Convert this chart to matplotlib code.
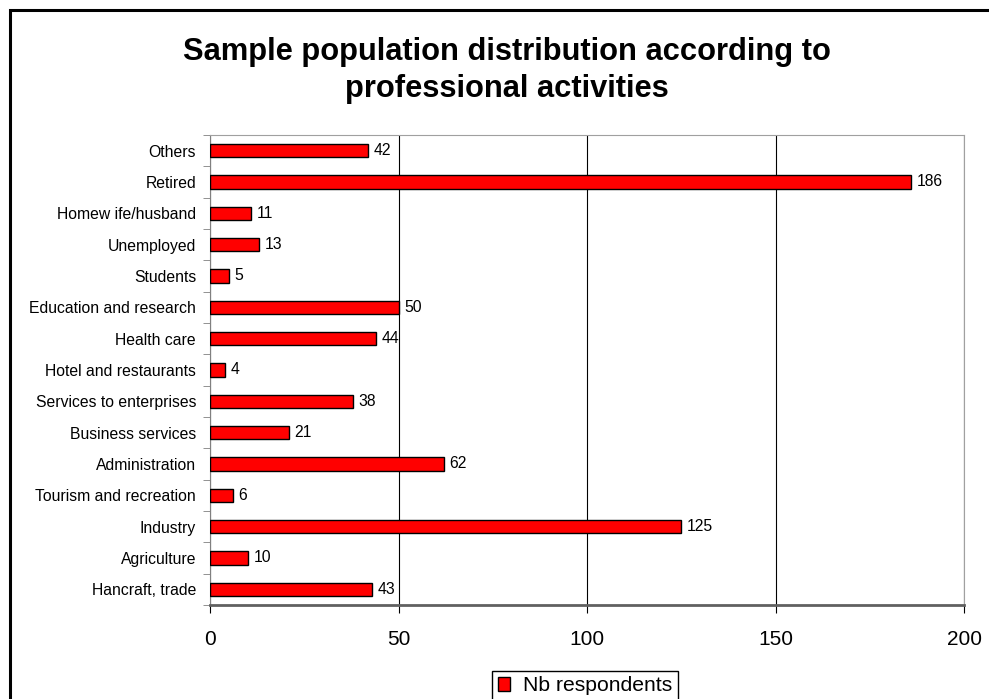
import matplotlib
matplotlib.use("Agg")
import matplotlib.pyplot as plt
from matplotlib.patches import Rectangle
import numpy as np

# professional activity categories, listed bottom to top
categories = ["Hancraft, trade", "Agriculture", "Industry", "Tourism and recreation",
              "Administration", "Business services", "Services to enterprises",
              "Hotel and restaurants", "Health care", "Education and research",
              "Students", "Unemployed", "Homew ife/husband", "Retired", "Others"]
respondents = [43, 10, 125, 6, 62, 21, 38, 4, 44, 50, 5, 13, 11, 186, 42]
x_ticks = [0, 50, 100, 150, 200]

plt.rcParams['font.family'] = ['Liberation Sans', 'DejaVu Sans']

fig = plt.figure(figsize=(9.89, 6.99), dpi=100)
ax = fig.add_axes([210 / 989, 1 - 605 / 699, 754 / 989, 470 / 699])

y = np.arange(len(categories))
ax.barh(y, respondents, height=0.42, color='#FF0000', edgecolor='black',
        linewidth=1, label='Nb respondents', zorder=3)

# value labels at the end of each bar
for yi, v in zip(y, respondents):
    ax.annotate(str(v), (v, yi), xytext=(4, 0), textcoords='offset points',
                va='center', ha='left', fontsize=11.3)

ax.set_xlim(0, 200)
ax.set_ylim(-0.5, len(categories) - 0.5)
ax.set_xticks(x_ticks)
ax.tick_params(axis='x', labelsize=15, length=6, pad=12, color='black')

ax.set_yticks(y)
ax.set_yticklabels(categories, fontsize=11.3)
ax.set_yticks(np.arange(-0.5, len(categories)), minor=True)
ax.tick_params(axis='y', which='major', length=0, pad=10)
ax.tick_params(axis='y', which='minor', length=5, color='#808080')

ax.xaxis.grid(True, color='black', linewidth=0.8, zorder=0)
ax.set_axisbelow(True)

ax.spines['top'].set_color('#a0a0a0')
ax.spines['right'].set_color('#a0a0a0')
ax.spines['left'].set_color('#808080')
ax.spines['bottom'].set_color('#606060')
ax.spines['bottom'].set_linewidth(2)

fig.text(507 / 989, 1 - 70.5 / 699,
         "Sample population distribution according to\nprofessional activities",
         ha='center', va='center', fontsize=22.2, fontweight='bold', linespacing=1.3)

fig.legend(loc='upper center', bbox_to_anchor=(585 / 989, 1 - 671 / 699),
           borderaxespad=0, fontsize=15.2, frameon=True, fancybox=False,
           edgecolor='black', framealpha=1, handlelength=0.6, handleheight=0.6,
           handletextpad=0.6, borderpad=0.25)

# outer chart border
border = Rectangle((10 / 989, -0.1), 1.2, 1.1 - 10 / 699, transform=fig.transFigure,
                   fill=False, edgecolor='black', linewidth=2.2)
fig.patches.append(border)

fig.savefig("out.png", dpi=100)
